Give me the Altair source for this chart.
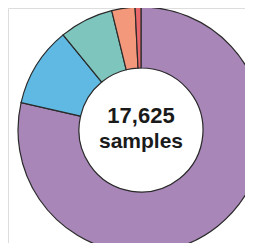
import altair as alt
import pandas as pd

categories = ["A", "B", "C", "D", "E"]
values = [13850, 1850, 1250, 540, 135]
colors = ["#a887b8", "#5fb9e2", "#7ec5bd", "#f4987b", "#e8676b"]
order = [0, 1, 2, 3, 4]
center_lines = ["17,625", "samples"]

df = pd.DataFrame({"cat": categories, "value": values, "ord": order})

W, H = 237, 235
cx, cy = 133, 122

arc = alt.Chart(df).mark_arc(
    outerRadius=123, innerRadius=62, stroke="#2a2a2a", strokeWidth=1.2
).encode(
    theta=alt.Theta("value:Q", stack=True),
    order=alt.Order("ord:Q"),
    color=alt.Color("cat:N", scale=alt.Scale(domain=categories, range=colors), legend=None),
    x=alt.value(cx),
    y=alt.value(cy),
)

text1 = alt.Chart(pd.DataFrame({"t": [center_lines[0]]})).mark_text(
    font="Liberation Sans", fontWeight="bold", fontSize=22, color="#1a1a1a",
    baseline="alphabetic", align="center"
).encode(text="t:N", x=alt.value(cx), y=alt.value(115))
text2 = alt.Chart(pd.DataFrame({"t": [center_lines[1]]})).mark_text(
    font="Liberation Sans", fontWeight="bold", fontSize=21, color="#1a1a1a",
    baseline="alphabetic", align="center"
).encode(text="t:N", x=alt.value(cx), y=alt.value(140))

chart = alt.layer(arc, text1, text2).properties(
    width=W, height=H, padding=0, autosize=alt.AutoSizeParams(type="none")
).configure_view(stroke=None).configure(background="white")

chart.save("out.html", embed_options={"renderer": "svg", "actions": False})
